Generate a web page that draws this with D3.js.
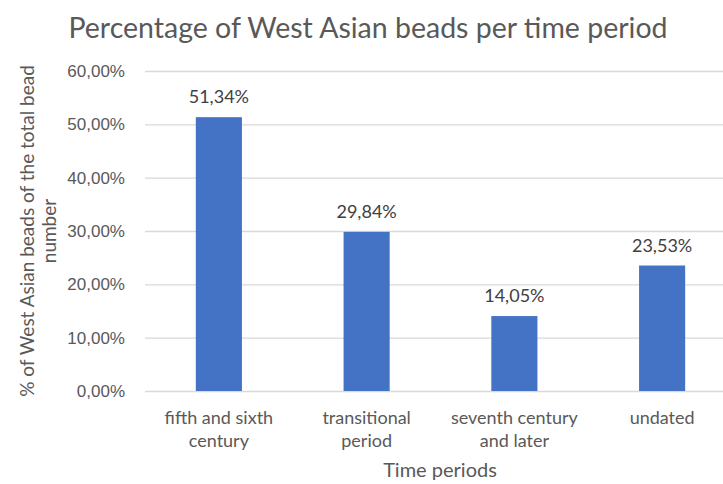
<!DOCTYPE html>
<html>
<head>
<meta charset="utf-8">
<script src="https://cdn.jsdelivr.net/npm/d3@7"></script>
<style>
  html, body { margin: 0; padding: 0; background: #fff; }
  svg { display: block; font-family: Lato, "Open Sans", sans-serif; }
</style>
</head>
<body>
<div id="chart"></div>
<script>
// Share of West Asian beads in each time period (percent of total bead number)
const categories = [
  ["fifth and sixth", "century"],
  ["transitional", "period"],
  ["seventh century", "and later"],
  ["undated"]
];
const values = [51.34, 29.84, 14.05, 23.53];
const yTicks = [0, 10, 20, 30, 40, 50, 60];

const W = 723, H = 484;
const margin = { left: 145, right: -13, top: 71, bottom: 93 };

const svg = d3.select("#chart").append("svg")
  .attr("width", W).attr("height", H);

const fmt = v => d3.format(".2f")(v).replace(".", ",") + "%";

const x = d3.scaleBand()
  .domain(d3.range(values.length))
  .range([margin.left, W - margin.right])
  .paddingInner(0.688)
  .paddingOuter(0.344);

const y = d3.scaleLinear()
  .domain([0, 60])
  .range([H - margin.bottom, margin.top]);

// Title
svg.append("text")
  .attr("x", 368).attr("y", 38)
  .attr("text-anchor", "middle")
  .attr("fill", "#595959")
  .style("font-size", "28.5px")
  .text("Percentage of West Asian beads per time period");

// Horizontal gridlines and y-axis labels
const yAxis = d3.axisLeft(y)
  .tickValues(yTicks)
  .tickSize(-(W - margin.right - margin.left))
  .tickPadding(20)
  .tickFormat(fmt);

const gy = svg.append("g")
  .attr("transform", `translate(${margin.left},0)`)
  .call(yAxis);
gy.select(".domain").remove();
gy.selectAll(".tick line").attr("stroke", "#d9d9d9").attr("stroke-width", 1.3);
gy.selectAll(".tick text")
  .attr("fill", "#595959")
  .style("font-size", "17px");

// Bars
svg.append("g").selectAll("rect")
  .data(values)
  .join("rect")
  .attr("x", (d, i) => x(i))
  .attr("width", x.bandwidth())
  .attr("y", d => y(d))
  .attr("height", d => y(0) - y(d))
  .attr("fill", "#4472c4");

// Value labels
svg.append("g").selectAll("text")
  .data(values)
  .join("text")
  .attr("x", (d, i) => x(i) + x.bandwidth() / 2)
  .attr("y", d => y(d) - 14)
  .attr("text-anchor", "middle")
  .attr("fill", "#404040")
  .style("font-size", "18px")
  .text(d => fmt(d));

// Category labels (wrapped onto two lines)
const cat = svg.append("g").selectAll("text")
  .data(categories)
  .join("text")
  .attr("x", (d, i) => x(i) + x.bandwidth() / 2)
  .attr("y", y(0) + 33)
  .attr("text-anchor", "middle")
  .attr("fill", "#595959")
  .style("font-size", "18px");
cat.selectAll("tspan")
  .data(d => d)
  .join("tspan")
  .attr("x", function () { return this.parentNode.getAttribute("x"); })
  .attr("dy", (d, i) => i === 0 ? 0 : 23)
  .text(d => d);

// X axis title
svg.append("text")
  .attr("x", 440).attr("y", 477)
  .attr("text-anchor", "middle")
  .attr("fill", "#595959")
  .style("font-size", "20px")
  .text("Time periods");

// Y axis title (two lines, rotated)
const yTitle = svg.append("text")
  .attr("transform", `translate(34,${(y(0) + y(60)) / 2}) rotate(-90)`)
  .attr("text-anchor", "middle")
  .attr("fill", "#595959")
  .style("font-size", "19px");
yTitle.append("tspan").attr("x", 0).attr("dy", 0).text("% of West Asian beads of the total bead");
yTitle.append("tspan").attr("x", 0).attr("dy", 22).text("number");
</script>
</body>
</html>
